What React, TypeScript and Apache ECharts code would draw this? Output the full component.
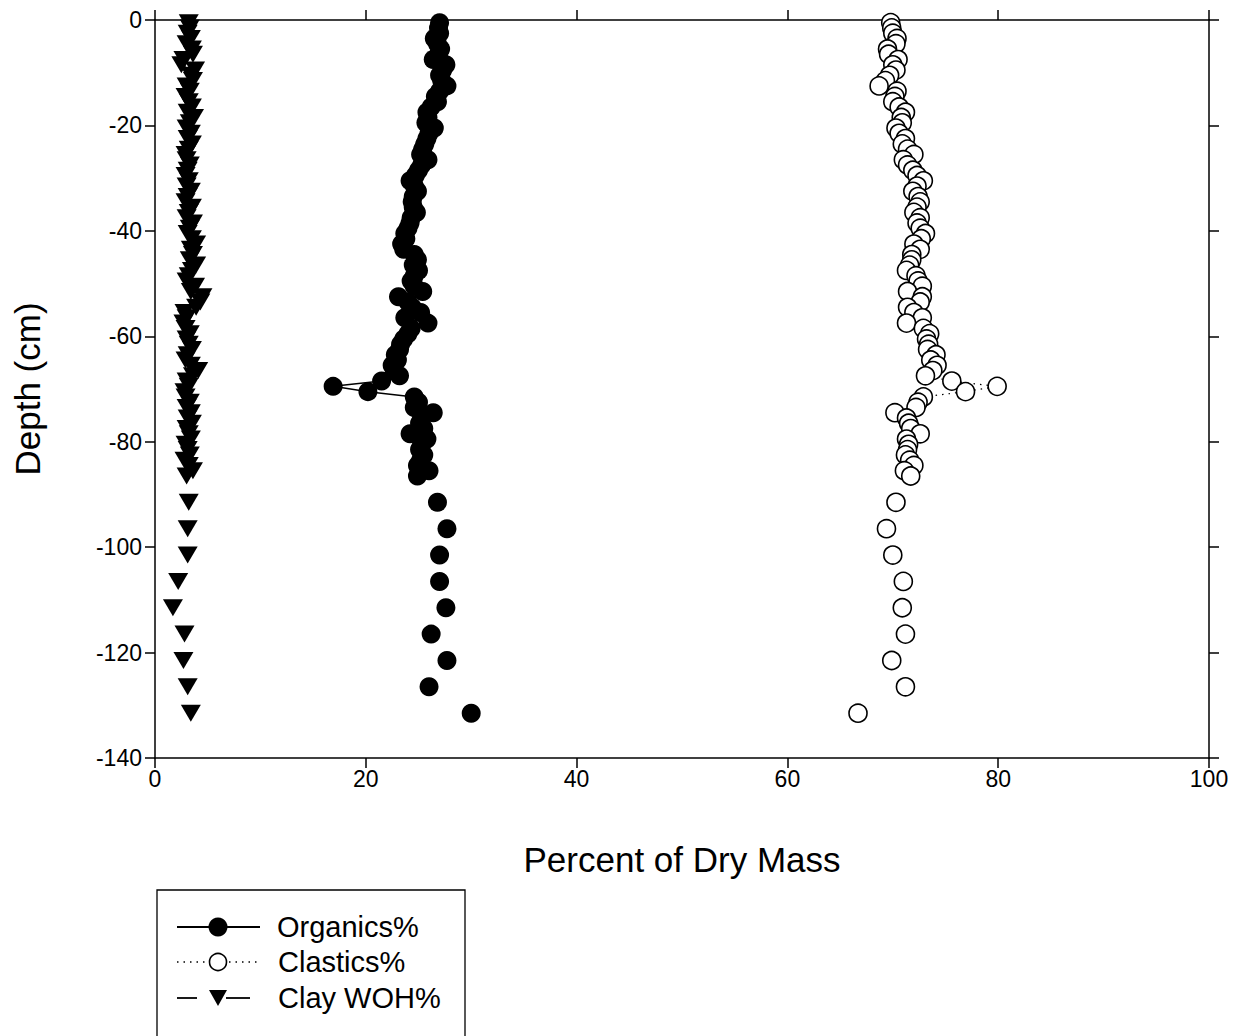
import React, { useEffect, useRef } from "react";
import * as echarts from "echarts";

// Depth (cm) of the closely spaced samples
const denseDepths = [
  -0.5, -1.5, -2.5, -3.5, -4.5, -5.5, -6.5, -7.5, -8.5, -9.5,
  -10.5, -11.5, -12.5, -13.5, -14.5, -15.5, -16.5, -17.5, -18.5, -19.5,
  -20.5, -21.5, -22.5, -23.5, -24.5, -25.5, -26.5, -27.5, -28.5, -29.5,
  -30.5, -31.5, -32.5, -33.5, -34.5, -35.5, -36.5, -37.5, -38.5, -39.5,
  -40.5, -41.5, -42.5, -43.5, -44.5, -45.5, -46.5, -47.5, -48.5, -49.5,
  -50.5, -51.5, -52.5, -53.5, -54.5, -55.5, -56.5, -57.5, -58.5, -59.5,
  -60.5, -61.5, -62.5, -63.5, -64.5, -65.5, -66.5, -67.5, -68.5, -69.5,
  -70.5, -71.5, -72.5, -73.5, -74.5, -75.5, -76.5, -77.5, -78.5, -79.5,
  -80.5, -81.5, -82.5, -83.5, -84.5, -85.5, -86.5,
];
// Depth (cm) of the widely spaced samples
const sparseDepths = [-91.5, -96.5, -101.5, -106.5, -111.5, -116.5, -121.5, -126.5, -131.5];

const organicsDense = [
  27.0, 26.9, 27.0, 26.5, 26.8, 27.1, 26.9, 26.4, 27.6, 27.3,
  27.0, 27.2, 27.7, 27.0, 26.6, 26.8, 26.2, 25.8, 25.9, 25.7,
  26.5, 26.0, 25.8, 25.6, 25.4, 25.2, 25.9, 25.3, 25.0, 24.7,
  24.2, 24.6, 24.9, 24.5, 24.4, 24.5, 24.8, 24.3, 24.2, 24.0,
  23.7, 23.8, 23.4, 23.6, 24.6, 24.9, 24.5, 25.0, 24.6, 24.3,
  24.6, 25.4, 23.1, 24.0, 24.4, 25.2, 23.7, 25.9, 24.3, 24.0,
  23.6, 23.3, 23.2, 22.8, 23.0, 22.5, 22.7, 23.2, 21.5, 16.9,
  20.2, 24.6, 25.0, 24.6, 26.4, 25.3, 25.1, 25.5, 24.2, 25.8,
  25.3, 25.1, 25.5, 25.2, 24.9, 26.0, 24.9,
];
const organicsSparse = [26.8, 27.7, 27.0, 27.0, 27.6, 26.2, 27.7, 26.0, 30.0];

const clasticsDense = [
  69.8, 69.9, 70.0, 70.4, 70.3, 69.5, 69.6, 70.5, 70.0, 70.3,
  69.7, 69.3, 68.7, 70.4, 70.2, 70.0, 70.6, 71.2, 70.8, 70.9,
  70.3, 70.6, 71.2, 70.9, 71.4, 72.0, 71.0, 71.4, 71.9, 72.3,
  72.9, 72.3, 71.9, 72.4, 72.6, 72.3, 72.0, 72.6, 72.3, 72.6,
  73.1, 72.7, 72.0, 72.6, 71.8, 71.8, 71.6, 71.3, 72.2, 72.4,
  72.8, 71.4, 72.8, 72.6, 71.4, 72.0, 72.8, 71.3, 72.9, 73.5,
  73.2, 73.4, 73.3, 74.1, 73.6, 74.2, 73.8, 73.1, 75.6, 79.9,
  76.9, 72.9, 72.4, 72.2, 70.2, 71.3, 71.5, 71.7, 72.6, 71.3,
  71.5, 71.4, 71.2, 71.6, 72.0, 71.1, 71.7,
];
const clasticsSparse = [70.3, 69.4, 70.0, 71.0, 70.9, 71.2, 69.9, 71.2, 66.7];

const clayDense = [
  3.2, 3.3, 3.1, 3.4, 3.0, 3.5, 3.6, 2.7, 2.5, 3.8,
  3.4, 3.6, 3.0, 3.3, 2.9, 3.2, 3.5, 3.1, 3.7, 3.3,
  3.0, 3.4, 3.1, 3.5, 3.2, 2.9, 3.0, 3.3, 3.1, 2.9,
  3.2, 3.0, 3.4, 3.1, 2.9, 3.5, 3.2, 3.0, 3.6, 3.3,
  3.1, 3.5, 3.9, 3.4, 3.6, 3.3, 3.9, 3.5, 3.2, 3.0,
  3.8, 3.4, 4.5, 4.3, 3.9, 2.8, 3.0, 2.7, 2.9, 3.3,
  3.0, 3.2, 3.5, 3.1, 2.9, 3.4, 4.1, 3.6, 3.0, 3.2,
  2.8, 2.9, 3.3, 3.0, 3.4, 3.1, 3.5, 3.0, 3.2, 3.4,
  2.9, 3.1, 3.3, 2.8, 3.2, 3.6, 3.0,
];
const claySparse = [3.2, 3.1, 3.1, 2.2, 1.7, 2.8, 2.7, 3.1, 3.4];

const xTicks = [0, 20, 40, 60, 80, 100];
const yTicks = [0, -20, -40, -60, -80, -100, -120, -140];

const FONT = "'Liberation Sans', Arial, Helvetica, sans-serif";

function pairs(xs: number[], ds: number[]) {
  return xs.map((v, i) => [v, ds[i]]);
}

export default function App() {
  const ref = useRef<HTMLDivElement>(null);
  useEffect(() => {
    if (!ref.current) return;
    const chart = echarts.init(ref.current, undefined, { renderer: "svg" });

    const axisCommon = {
      axisLine: { show: true, onZero: false, lineStyle: { color: "#000", width: 1.5 } },
      axisTick: { show: true, inside: false, length: 10, lineStyle: { color: "#000", width: 1.5 } },
      splitLine: { show: false },
    };

    const circleBlack = { color: "#000", borderColor: "#000", borderWidth: 0, opacity: 1 };
    const circleWhite = { color: "#fff", borderColor: "#000", borderWidth: 1.6, opacity: 1 };
    const triStyle = { color: "#000", opacity: 1 };

    chart.setOption({
      animation: false,
      backgroundColor: "#fff",
      grid: { left: 155, top: 20, right: 34, bottom: 278, containLabel: false },
      xAxis: [
        {
          type: "value",
          position: "bottom",
          min: xTicks[0],
          max: xTicks[xTicks.length - 1],
          interval: 20,
          ...axisCommon,
          axisLabel: { color: "#000", fontSize: 23, fontFamily: FONT, margin: 9 },
          name: "Percent of Dry Mass",
          nameLocation: "middle",
          nameGap: 84,
          nameTextStyle: { color: "#000", fontSize: 35, fontFamily: FONT },
        },
        {
          type: "value",
          position: "top",
          min: xTicks[0],
          max: xTicks[xTicks.length - 1],
          interval: 20,
          ...axisCommon,
          axisLabel: { show: false },
        },
      ],
      yAxis: [
        {
          type: "value",
          position: "left",
          min: yTicks[yTicks.length - 1],
          max: yTicks[0],
          interval: 20,
          ...axisCommon,
          axisLabel: { color: "#000", fontSize: 23, fontFamily: FONT, margin: 13 },
          name: "Depth (cm)",
          nameLocation: "middle",
          nameGap: 110,
          nameRotate: 90,
          nameTextStyle: { color: "#000", fontSize: 35, fontFamily: FONT },
        },
        {
          type: "value",
          position: "right",
          min: yTicks[yTicks.length - 1],
          max: yTicks[0],
          interval: 20,
          ...axisCommon,
          axisLabel: { show: false },
        },
      ],
      series: [
        {
          name: "Clay WOH%",
          type: "line",
          data: pairs(clayDense, denseDepths),
          symbol: "triangle",
          symbolRotate: 180,
          symbolSize: [20, 17],
          itemStyle: triStyle,
          lineStyle: { color: "#000", width: 1.2, type: [14, 8] },
          z: 2,
        },
        {
          name: "Clay WOH% lower",
          type: "scatter",
          data: pairs(claySparse, sparseDepths),
          symbol: "triangle",
          symbolRotate: 180,
          symbolSize: [20, 17],
          itemStyle: triStyle,
          z: 2,
        },
        {
          name: "Organics%",
          type: "line",
          data: pairs(organicsDense, denseDepths),
          symbol: "circle",
          symbolSize: 19,
          itemStyle: circleBlack,
          lineStyle: { color: "#000", width: 1.5 },
          z: 3,
        },
        {
          name: "Organics% lower",
          type: "scatter",
          data: pairs(organicsSparse, sparseDepths),
          symbol: "circle",
          symbolSize: 19,
          itemStyle: circleBlack,
          z: 3,
        },
        {
          name: "Clastics%",
          type: "line",
          data: pairs(clasticsDense, denseDepths),
          symbol: "circle",
          symbolSize: 18,
          itemStyle: circleWhite,
          lineStyle: { color: "#000", width: 1.2, type: [1.5, 5] },
          z: 4,
        },
        {
          name: "Clastics% lower",
          type: "scatter",
          data: pairs(clasticsSparse, sparseDepths),
          symbol: "circle",
          symbolSize: 18,
          itemStyle: circleWhite,
          z: 4,
        },
      ],
      graphic: [
        {
          type: "rect",
          shape: { x: 157, y: 890, width: 308, height: 200 },
          style: { fill: "#fff", stroke: "#000", lineWidth: 1.3 },
          z: 10,
        },
        // Organics
        { type: "line", shape: { x1: 177, y1: 927, x2: 260, y2: 927 }, style: { stroke: "#000", lineWidth: 1.8 }, z: 11 },
        { type: "circle", shape: { cx: 218, cy: 927, r: 9.5 }, style: { fill: "#000" }, z: 12 },
        {
          type: "text", x: 277, y: 927,
          style: { text: "Organics%", fill: "#000", font: `29px ${FONT}`, textAlign: "left", textVerticalAlign: "middle" },
          z: 12,
        },
        // Clastics
        { type: "line", shape: { x1: 177, y1: 962, x2: 258, y2: 962 }, style: { stroke: "#000", lineWidth: 1.3, lineDash: [1.5, 5] }, z: 11 },
        { type: "circle", shape: { cx: 218, cy: 962, r: 8.5 }, style: { fill: "#fff", stroke: "#000", lineWidth: 1.6 }, z: 12 },
        {
          type: "text", x: 278, y: 962,
          style: { text: "Clastics%", fill: "#000", font: `29px ${FONT}`, textAlign: "left", textVerticalAlign: "middle" },
          z: 12,
        },
        // Clay
        { type: "line", shape: { x1: 177, y1: 998, x2: 197, y2: 998 }, style: { stroke: "#000", lineWidth: 1.8 }, z: 11 },
        { type: "line", shape: { x1: 226, y1: 998, x2: 250, y2: 998 }, style: { stroke: "#000", lineWidth: 1.8 }, z: 11 },
        { type: "polygon", shape: { points: [[209, 990], [227, 990], [218, 1006]] }, style: { fill: "#000" }, z: 12 },
        {
          type: "text", x: 278, y: 998,
          style: { text: "Clay WOH%", fill: "#000", font: `29px ${FONT}`, textAlign: "left", textVerticalAlign: "middle" },
          z: 12,
        },
      ],
    });

    return () => chart.dispose();
  }, []);

  return (
    <div
      ref={ref}
      style={{ position: "absolute", left: 0, top: 0, width: 1243, height: 1036, background: "#fff" }}
    />
  );
}
